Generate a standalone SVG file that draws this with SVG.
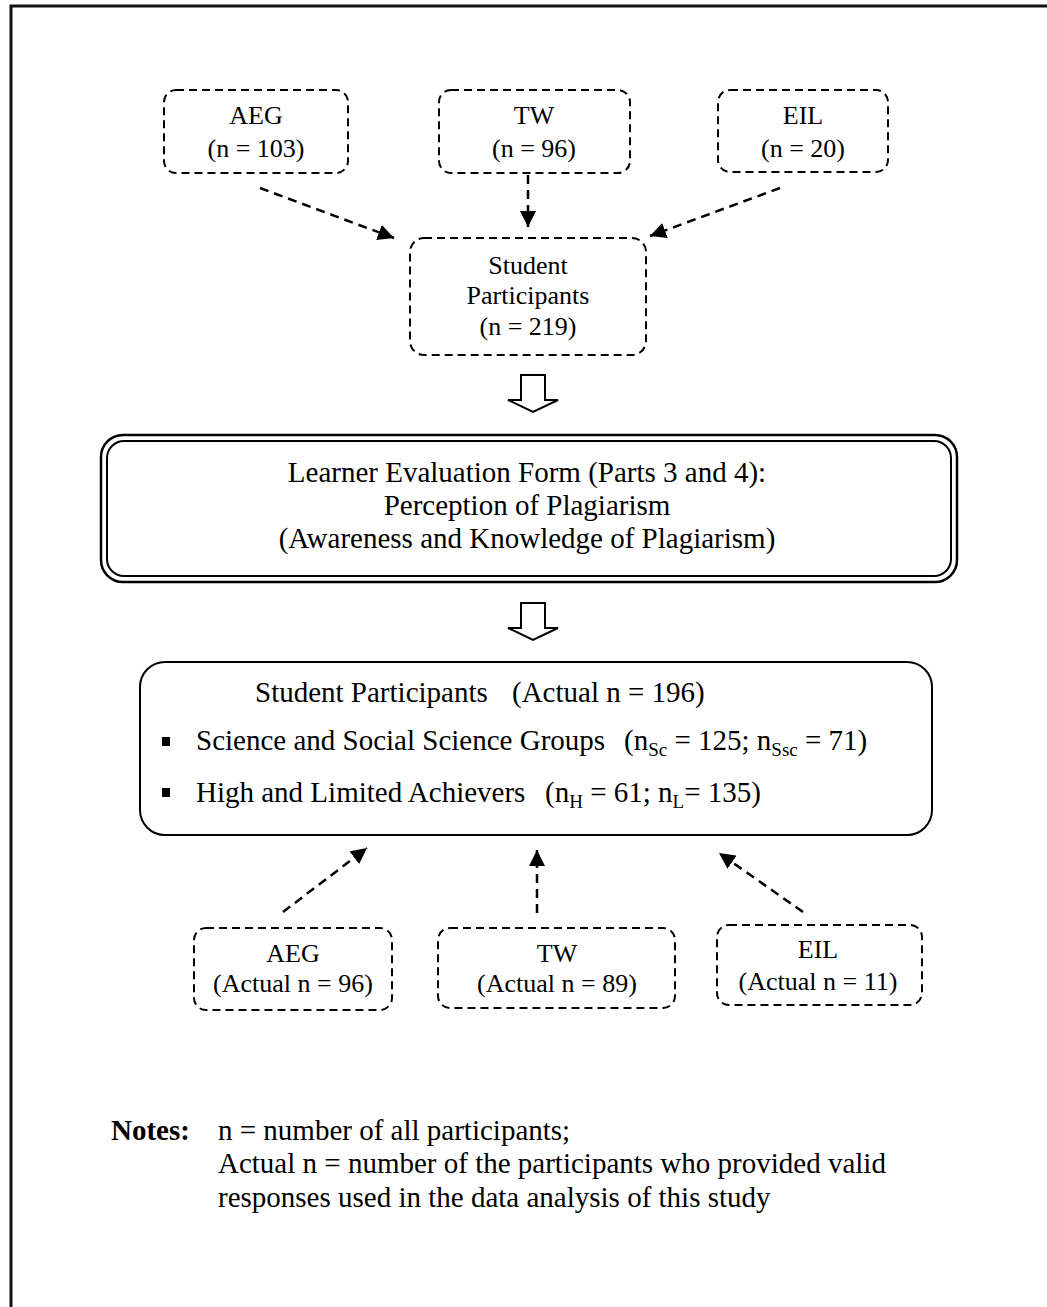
<svg xmlns="http://www.w3.org/2000/svg" width="1047" height="1307" viewBox="0 0 1047 1307">
<style>
text{font-family:"Liberation Serif","Times New Roman",serif;fill:#000}
.t26{font-size:26px;text-anchor:middle}
.t28{font-size:29px;text-anchor:middle}
.t29{font-size:29px}
.dbox{fill:none;stroke:#000;stroke-width:2;stroke-dasharray:8 5}
.conn{fill:none;stroke:#000;stroke-width:2.5;stroke-dasharray:9 6}
.hollow{fill:#fff;stroke:#000;stroke-width:2;stroke-linejoin:miter}
.sub{font-size:19px}
</style>
<defs>
<marker id="ah" markerUnits="userSpaceOnUse" markerWidth="18" markerHeight="16" refX="16" refY="8" orient="auto">
<path d="M0,0 L16,8 L0,16 Z" fill="#000"/>
</marker>
</defs>
<path d="M11,1307 V6 H1047" fill="none" stroke="#111" stroke-width="3"/>

<g id="aeg-top"><rect class="dbox" x="164" y="90" width="184" height="83" rx="12"/>
<text class="t26" x="256" y="124">AEG</text><text class="t26" x="256" y="157">(n = 103)</text></g>
<g id="tw-top"><rect class="dbox" x="439" y="90" width="191" height="83" rx="12"/>
<text class="t26" x="534" y="124">TW</text><text class="t26" x="534" y="157">(n = 96)</text></g>
<g id="eil-top"><rect class="dbox" x="718" y="90" width="170" height="82" rx="12"/>
<text class="t26" x="803" y="124">EIL</text><text class="t26" x="803" y="157">(n = 20)</text></g>
<g id="student-top"><rect class="dbox" x="410" y="238" width="236" height="117" rx="14"/>
<text class="t26" x="528" y="274">Student</text><text class="t26" x="528" y="304">Participants</text><text class="t26" x="528" y="335">(n = 219)</text></g>

<g id="form"><rect x="101" y="435" width="856" height="147" rx="22" fill="none" stroke="#000" stroke-width="2.5"/>
<rect x="107" y="441" width="844" height="135" rx="17" fill="none" stroke="#000" stroke-width="2"/>
<text class="t28" x="527" y="482">Learner Evaluation Form (Parts 3 and 4):</text>
<text class="t28" x="527" y="515">Perception of Plagiarism</text>
<text class="t28" x="527" y="548">(Awareness and Knowledge of Plagiarism)</text></g>

<g id="actual"><rect x="140" y="662" width="792" height="173" rx="25" fill="none" stroke="#000" stroke-width="2"/>
<text class="t29" x="255" y="702">Student Participants</text>
<text class="t29" x="512" y="702">(Actual n = 196)</text>
<rect x="162" y="737" width="8" height="9" fill="#000"/>
<text class="t29" x="196" y="750">Science and Social Science Groups</text>
<text class="t29" x="624" y="750">(n<tspan class="sub" dy="6">Sc</tspan><tspan dy="-6"> = 125; n</tspan><tspan class="sub" dy="6">Ssc</tspan><tspan dy="-6"> = 71)</tspan></text>
<rect x="162" y="788" width="8" height="9" fill="#000"/>
<text class="t29" x="196" y="802">High and Limited Achievers</text>
<text class="t29" x="545" y="802">(n<tspan class="sub" dy="6">H</tspan><tspan dy="-6"> = 61; n</tspan><tspan class="sub" dy="6">L</tspan><tspan dy="-6">= 135)</tspan></text></g>

<g id="aeg-bot"><rect class="dbox" x="194" y="928" width="198" height="82" rx="12"/>
<text class="t26" x="293" y="962">AEG</text><text class="t26" x="293" y="992">(Actual n = 96)</text></g>
<g id="tw-bot"><rect class="dbox" x="438" y="928" width="237" height="80" rx="12"/>
<text class="t26" x="557" y="962">TW</text><text class="t26" x="557" y="992">(Actual n = 89)</text></g>
<g id="eil-bot"><rect class="dbox" x="717" y="925" width="205" height="80" rx="12"/>
<text class="t26" x="818" y="958">EIL</text><text class="t26" x="818" y="990">(Actual n = 11)</text></g>

<g id="notes">
<text class="t29" x="111" y="1140" font-weight="bold">Notes:</text>
<text class="t29" x="218" y="1140">n = number of all participants;</text>
<text class="t29" x="218" y="1173">Actual n = number of the participants who provided valid</text>
<text class="t29" x="218" y="1207">responses used in the data analysis of this study</text>
</g>

<g id="connectors">
<line class="conn" x1="260" y1="188" x2="394" y2="238" marker-end="url(#ah)"/>
<line class="conn" x1="528" y1="175" x2="528" y2="227" marker-end="url(#ah)"/>
<line class="conn" x1="780" y1="188" x2="650" y2="236" marker-end="url(#ah)"/>
<polygon class="hollow" points="521,375 545,375 545,400 558,400 533,412 508,400 521,400"/>
<polygon class="hollow" points="521,603 545,603 545,628 558,628 533,640 508,628 521,628"/>
<line class="conn" x1="283" y1="912" x2="367" y2="848" marker-end="url(#ah)"/>
<line class="conn" x1="537" y1="913" x2="537" y2="850" marker-end="url(#ah)"/>
<line class="conn" x1="803" y1="912" x2="719" y2="853" marker-end="url(#ah)"/>
</g>
</svg>
